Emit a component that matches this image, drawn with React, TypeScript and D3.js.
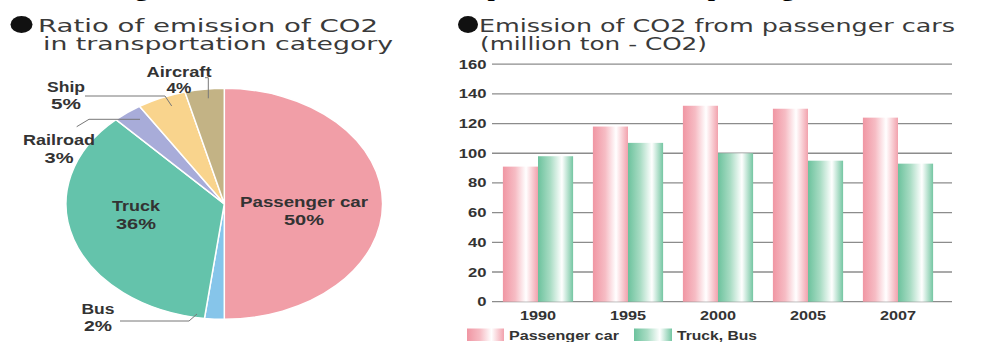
import React from 'react';
import * as d3 from 'd3';

// ---------- data ----------
const pieCategories = ['Passenger car', 'Bus', 'Truck', 'Railroad', 'Ship', 'Aircraft'];
const pieValues = [50, 2, 36, 3, 5, 4];
const pieColors = ['#f19ea7', '#86c5ea', '#64c3ab', '#a8acd9', '#f9d48d', '#c3b385'];

const years = ['1990', '1995', '2000', '2005', '2007'];
const seriesNames = ['Passenger car', 'Truck, Bus'];
const passengerCar = [91, 118, 132, 130, 124];
const truckBus = [98, 107, 100, 95, 93];
const yTicks = [0, 20, 40, 60, 80, 100, 120, 140, 160];

// ---------- layout ----------
const W = 1003;
const H = 342;
const CX = 224.3;
const CY = 203.8;
const RX = 158.3;
const RY = 115.5;

const TXT = '#333';
const SANS = '"Liberation Sans", Arial, sans-serif';
const TITLE_FONT = '"DejaVu Sans", "Liberation Sans", sans-serif';

type LabelSpec = { lines: string[]; cx: number; widths: number[]; baselines: number[]; size: number };
const pieLabelPos: LabelSpec[] = [
  { lines: ['Passenger car', '50%'], cx: 304, widths: [128, 40], baselines: [206.5, 225], size: 15 },
  { lines: ['Bus', '2%'], cx: 98, widths: [33, 28], baselines: [313.5, 331], size: 14 },
  { lines: ['Truck', '36%'], cx: 136, widths: [48, 40], baselines: [211, 229], size: 15 },
  { lines: ['Railroad', '3%'], cx: 59, widths: [72, 29], baselines: [145, 162.5], size: 14 },
  { lines: ['Ship', '5%'], cx: 66, widths: [38, 30], baselines: [91.5, 108.5], size: 14 },
  { lines: ['Aircraft', '4%'], cx: 179, widths: [65, 25], baselines: [76.5, 93], size: 14 },
];

const leaders = [
  [[120, 321], [189, 321], [197, 314]],
  [[76.7, 126.7], [89, 119.3], [140, 119.3]],
  [[85, 96], [165, 96], [171.7, 106]],
  [[205, 77.7], [208.3, 77.7], [208.3, 98.3]],
];

function SText({ x, y, w, size, children, weight = 'bold', fill = TXT, family = SANS }: any) {
  return (
    <text
      x={x}
      y={y}
      textLength={w}
      lengthAdjust="spacingAndGlyphs"
      fontSize={size}
      fontWeight={weight}
      fill={fill}
      fontFamily={family}
    >
      {children}
    </text>
  );
}

export default function App() {
  const pie = d3.pie<number>().sort(null).value((d) => d)(pieValues);
  const arc = d3.arc<d3.PieArcDatum<number>>().innerRadius(0).outerRadius(RY);

  const x0 = d3.scaleBand<string>().domain(years).range([493, 943]).paddingInner(0.22).paddingOuter(0.11);
  const x1 = d3.scaleBand<string>().domain(seriesNames).range([0, x0.bandwidth()]);
  const y = d3.scaleLinear().domain([0, 160]).range([301.7, 64.2]);
  const series = [passengerCar, truckBus];
  const grads = ['gPink', 'gGreen'];
  const line = d3.line();

  return (
    <svg
      width={W}
      height={H}
      viewBox={`0 0 ${W} ${H}`}
      style={{ position: 'absolute', left: 0, top: 0, display: 'block', background: '#fff' }}
    >
      <defs>
        <linearGradient id="gPink" x1="0" x2="1" y1="0" y2="0">
          <stop offset="0" stopColor="#f096a3" />
          <stop offset="0.35" stopColor="#f6bcc4" />
          <stop offset="0.66" stopColor="#ffffff" />
          <stop offset="1" stopColor="#f2a2ad" />
        </linearGradient>
        <linearGradient id="gGreen" x1="0" x2="1" y1="0" y2="0">
          <stop offset="0" stopColor="#6cc29d" />
          <stop offset="0.35" stopColor="#a9dcc4" />
          <stop offset="0.68" stopColor="#ffffff" />
          <stop offset="1" stopColor="#74c6a2" />
        </linearGradient>
      </defs>
      <rect x={0} y={0} width={W} height={H} fill="#fff" />

      {/* heading, cropped off at the top edge of the picture */}
      <text
        x={112}
        y={-4}
        textLength={758}
        lengthAdjust="spacingAndGlyphs"
        fontFamily='"Liberation Serif", "Times New Roman", serif'
        fontWeight="bold"
        fontSize={20}
        fill="#000"
      >
        Figure 2 Emission of CO<tspan fontSize={13} baselineShift="-30%">2</tspan> in transportation and from passenger cars
      </text>

      {/* left title */}
      <ellipse cx={21.5} cy={24.5} rx={11} ry={8.5} fill="#111" />
      <SText x={38} y={31.5} w={340} size={18.5} weight="normal" family={TITLE_FONT} fill="#3a3a3a">
        Ratio of emission of CO2
      </SText>
      <SText x={43} y={50} w={350} size={18.5} weight="normal" family={TITLE_FONT} fill="#3a3a3a">
        in transportation category
      </SText>

      {/* pie */}
      <g transform={`translate(${CX},${CY}) scale(${RX / RY},1)`}>
        {pie.map((p, i) => (
          <path
            key={pieCategories[i]}
            d={arc(p) as string}
            fill={pieColors[i]}
            stroke="#fff"
            strokeWidth={1.5}
            vectorEffect="non-scaling-stroke"
          />
        ))}
      </g>
      {leaders.map((pts, i) => (
        <path key={i} d={line(pts as [number, number][]) as string} fill="none" stroke="#777" strokeWidth={1} />
      ))}
      {pieLabelPos.map((l) =>
        l.lines.map((t, j) => (
          <SText key={l.lines[0] + j} x={l.cx - l.widths[j] / 2} y={l.baselines[j]} w={l.widths[j]} size={l.size}>
            {t}
          </SText>
        ))
      )}

      {/* right title */}
      <ellipse cx={468} cy={24.5} rx={10} ry={8.5} fill="#111" />
      <SText x={479} y={31.5} w={476} size={18.5} weight="normal" family={TITLE_FONT} fill="#3a3a3a">
        Emission of CO2 from passenger cars
      </SText>
      <SText x={480} y={50} w={227} size={18.5} weight="normal" family={TITLE_FONT} fill="#3a3a3a">
        (million ton - CO2)
      </SText>

      {/* grid */}
      {yTicks.map((t) => (
        <g key={t}>
          <line x1={492} x2={952} y1={y(t)} y2={y(t)} stroke="#8c8c8c" strokeWidth={1.3} />
          <text
            transform={`translate(486.5,${y(t) + 4.5}) scale(1.33,1)`}
            textAnchor="end"
            fontSize={12.5}
            fontWeight="bold"
            fontFamily={SANS}
            fill={TXT}
          >
            {t}
          </text>
        </g>
      ))}

      {/* bars */}
      {years.map((yr, gi) => (
        <g key={yr} transform={`translate(${x0(yr)},0)`}>
          {series.map((s, si) => (
            <rect
              key={si}
              x={x1(seriesNames[si])}
              y={y(s[gi])}
              width={x1.bandwidth()}
              height={y(0) - y(s[gi])}
              fill={`url(#${grads[si]})`}
            />
          ))}
          <text
            transform={`translate(${x0.bandwidth() / 2},320) scale(1.3,1)`}
            textAnchor="middle"
            fontSize={12.5}
            fontWeight="bold"
            fontFamily={SANS}
            fill={TXT}
          >
            {yr}
          </text>
        </g>
      ))}

      {/* legend */}
      <rect x={467} y={328.5} width={37} height={12.5} fill="url(#gPink)" />
      <SText x={509} y={339.5} w={110} size={13}>
        {seriesNames[0]}
      </SText>
      <rect x={634} y={328.5} width={38} height={12.5} fill="url(#gGreen)" />
      <SText x={677} y={339.5} w={80} size={13}>
        {seriesNames[1]}
      </SText>
    </svg>
  );
}
